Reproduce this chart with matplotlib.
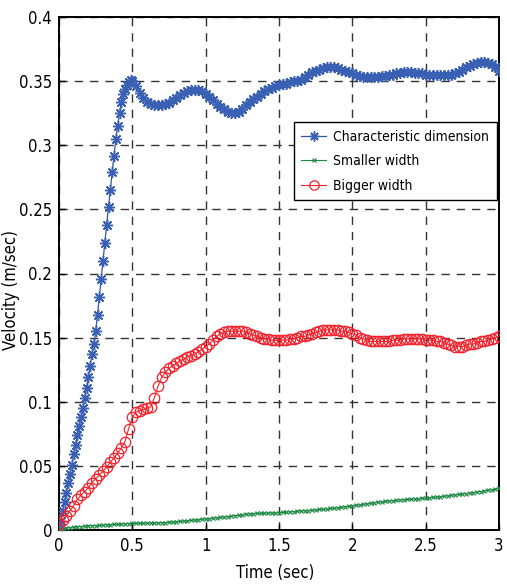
import numpy as np
import matplotlib
matplotlib.use("Agg")
import matplotlib.pyplot as plt
from matplotlib import font_manager
from matplotlib.font_manager import FontProperties

# ---- data ----
t_char_rise = np.round(np.arange(0, 0.5, 0.0125), 4)
v_char_rise = [
    0.000, 0.007, 0.015, 0.022, 0.029, 0.037, 0.044, 0.051,
    0.059, 0.066, 0.074, 0.081, 0.088, 0.095, 0.103, 0.111,
    0.119, 0.128, 0.137, 0.145, 0.155, 0.168, 0.182, 0.196,
    0.210, 0.224, 0.238, 0.252, 0.265, 0.279, 0.292, 0.305,
    0.315, 0.325, 0.334, 0.340, 0.344, 0.347, 0.349, 0.351,
]
t_char_rest = np.round(np.arange(0.5, 3.0001, 0.025), 4)
v_char_rest = [
    0.350, 0.346, 0.341, 0.337, 0.334, 0.332, 0.331, 0.331, 0.331, 0.332,
    0.333, 0.335, 0.337, 0.339, 0.341, 0.342, 0.343, 0.343, 0.343, 0.342,
    0.340, 0.338, 0.335, 0.332, 0.330, 0.328, 0.326, 0.325, 0.325, 0.326,
    0.328, 0.331, 0.334, 0.336, 0.338, 0.340, 0.342, 0.344, 0.345, 0.346,
    0.347, 0.348, 0.348, 0.349, 0.350, 0.350, 0.351, 0.353, 0.355, 0.357,
    0.358, 0.359, 0.360, 0.361, 0.361, 0.361, 0.360, 0.359, 0.358, 0.357,
    0.356, 0.355, 0.354, 0.353, 0.353, 0.353, 0.353, 0.353, 0.354, 0.354,
    0.355, 0.355, 0.356, 0.356, 0.357, 0.357, 0.357, 0.356, 0.356, 0.356,
    0.355, 0.355, 0.355, 0.355, 0.355, 0.355, 0.355, 0.355, 0.356, 0.357,
    0.359, 0.361, 0.362, 0.363, 0.364, 0.365, 0.365, 0.364, 0.363, 0.361,
    0.358,
]
t_common = np.round(np.arange(0, 3.0001, 0.025), 4)
v_smaller = [
    0.0000, 0.0010, 0.0015, 0.0019, 0.0022, 0.0025, 0.0027, 0.0029, 0.0031, 0.0033,
    0.0035, 0.0036, 0.0038, 0.0040, 0.0041, 0.0043, 0.0045, 0.0046, 0.0048, 0.0050,
    0.0052, 0.0052, 0.0053, 0.0053, 0.0054, 0.0054, 0.0055, 0.0055, 0.0056, 0.0057,
    0.0059, 0.0062, 0.0065, 0.0067, 0.0070, 0.0072, 0.0075, 0.0078, 0.0081, 0.0083,
    0.0086, 0.0089, 0.0092, 0.0095, 0.0098, 0.0102, 0.0105, 0.0109, 0.0112, 0.0115,
    0.0119, 0.0122, 0.0125, 0.0127, 0.0129, 0.0130, 0.0131, 0.0132, 0.0133, 0.0134,
    0.0135, 0.0137, 0.0139, 0.0141, 0.0143, 0.0146, 0.0148, 0.0150, 0.0152, 0.0155,
    0.0157, 0.0160, 0.0162, 0.0165, 0.0168, 0.0171, 0.0174, 0.0177, 0.0181, 0.0184,
    0.0188, 0.0192, 0.0196, 0.0200, 0.0204, 0.0208, 0.0212, 0.0216, 0.0220, 0.0223,
    0.0226, 0.0229, 0.0232, 0.0234, 0.0236, 0.0238, 0.0240, 0.0242, 0.0244, 0.0246,
    0.0248, 0.0251, 0.0254, 0.0257, 0.0260, 0.0263, 0.0266, 0.0270, 0.0273, 0.0277,
    0.0280, 0.0284, 0.0288, 0.0292, 0.0296, 0.0300, 0.0305, 0.0310, 0.0315, 0.0320,
    0.0326,
]
v_bigger = [
    0.005, 0.008, 0.011, 0.015, 0.019, 0.024, 0.027, 0.030, 0.033, 0.037,
    0.040, 0.043, 0.046, 0.049, 0.053, 0.056, 0.060, 0.064, 0.069, 0.079,
    0.088, 0.092, 0.093, 0.094, 0.095, 0.096, 0.103, 0.112, 0.119, 0.123,
    0.126, 0.128, 0.130, 0.132, 0.133, 0.135, 0.136, 0.137, 0.139, 0.141,
    0.143, 0.145, 0.148, 0.151, 0.153, 0.154, 0.155, 0.155, 0.155, 0.155,
    0.155, 0.154, 0.153, 0.152, 0.151, 0.150, 0.149, 0.149, 0.148, 0.148,
    0.148, 0.148, 0.148, 0.149, 0.149, 0.150, 0.151, 0.151, 0.152, 0.153,
    0.154, 0.155, 0.156, 0.156, 0.156, 0.156, 0.156, 0.155, 0.155, 0.154,
    0.153, 0.152, 0.150, 0.149, 0.148, 0.147, 0.147, 0.147, 0.147, 0.147,
    0.147, 0.148, 0.148, 0.148, 0.149, 0.149, 0.149, 0.149, 0.149, 0.149,
    0.148, 0.148, 0.148, 0.147, 0.147, 0.146, 0.145, 0.144, 0.143, 0.143,
    0.143, 0.144, 0.145, 0.145, 0.146, 0.147, 0.147, 0.148, 0.149, 0.150,
    0.151,
]
labels = ['Characteristic dimension', 'Smaller width', 'Bigger width']
xticks = [0, 0.5, 1, 1.5, 2, 2.5, 3]
xticklabels = ['0', '0.5', '1', '1.5', '2', '2.5', '3']
yticks = [0, 0.05, 0.1, 0.15, 0.2, 0.25, 0.3, 0.35, 0.4]
yticklabels = ['0', '0.05', '0.1', '0.15', '0.2', '0.25', '0.3', '0.35', '0.4']

t_char = np.concatenate([t_char_rise, t_char_rest])
v_char = list(v_char_rise) + list(v_char_rest)
assert len(t_char) == len(v_char)
assert len(t_common) == len(v_smaller) == len(v_bigger)

# ---- font: prefer a narrow sans if any is installed ----
narrow = None
for f in font_manager.fontManager.ttflist:
    nm = f.name.lower()
    is_narrow = ('narrow' in nm or 'condensed' in nm or
                 str(f.stretch) in ('condensed', 'semi-condensed', '500', '375'))
    if is_narrow and f.style == 'normal' and f.weight in (400, 'normal', 'regular'):
        if narrow is None or 'liberation' in nm:
            narrow = f.fname
if narrow:
    def fp(size):
        return FontProperties(fname=narrow, size=size)
    TICK, LAB, LEG = 12, 12, 10
else:
    def fp(size):
        return FontProperties(family=['Liberation Sans', 'DejaVu Sans'], size=size)
    TICK, LAB, LEG = 11, 11.5, 9.5

# ---- figure ----
W, H = 507, 587
fig = plt.figure(figsize=(W / 100, H / 100), dpi=100)
ax = fig.add_axes([59 / W, 1 - 530 / H, 440 / W, 513 / H])

blue = '#2f55a6'
green = '#1d8a43'
red = '#f5202a'

ax.plot(t_char, v_char, color=blue, lw=0.9, marker=(8, 2, 0), markersize=8,
        markeredgewidth=1.05, markeredgecolor='#3a60b4', label=labels[0], zorder=3)
ax.plot(t_common, v_smaller, color=green, lw=0.8, marker='x', markersize=3.5,
        markeredgewidth=0.8, label=labels[1], zorder=3)
ax.plot(t_common, v_bigger, color=red, lw=0.8, marker='o', markersize=7.5,
        markerfacecolor='none', markeredgewidth=0.9, label=labels[2], zorder=3)

ax.set_xlim(0, 3)
ax.set_ylim(0, 0.4)
ax.set_xticks(xticks)
ax.set_xticklabels(xticklabels, fontproperties=fp(TICK))
ax.set_yticks(yticks)
ax.set_yticklabels(yticklabels, fontproperties=fp(TICK))
ax.tick_params(direction='in', length=4, width=1, pad=5, colors='black')
ax.grid(True, color='#333333', linestyle=(0, (6, 5)), linewidth=1.0)
ax.set_axisbelow(True)
for s in ax.spines.values():
    s.set_linewidth(1.4)
    s.set_color('black')

fig.text(275 / W, 1 - 573 / H, 'Time (sec)', ha='center', va='center', fontproperties=fp(LAB))
fig.text(11 / W, 1 - 290 / H, 'Velocity (m/sec)', ha='center', va='center',
         rotation=90, fontproperties=fp(LAB))

leg = ax.legend(loc='upper right', bbox_to_anchor=(0.995, 0.795), prop=fp(LEG),
                frameon=True, fancybox=False, edgecolor='black', framealpha=1,
                handlelength=1.8, handletextpad=0.5, borderpad=0.55,
                labelspacing=0.75, borderaxespad=0)
leg.get_frame().set_linewidth(1.0)
for h in leg.legend_handles:
    h.set_markersize(h.get_markersize() * 0.9)

fig.savefig('out.png', dpi=100)
